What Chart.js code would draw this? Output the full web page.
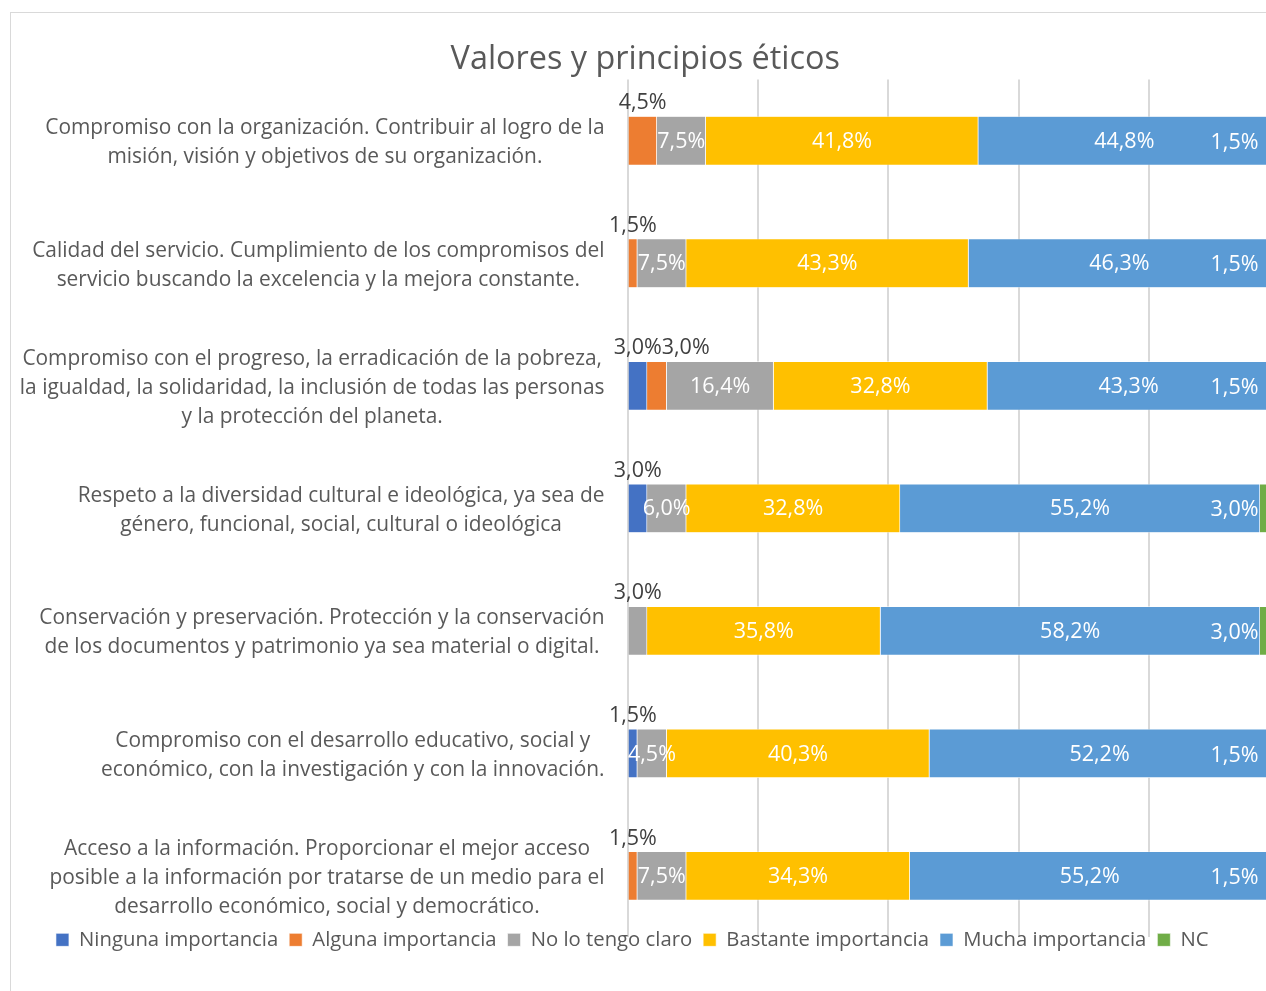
<!DOCTYPE html>
<html>
<head>
<meta charset="utf-8">
<script src="https://cdn.jsdelivr.net/npm/chart.js@4.4.1/dist/chart.umd.min.js"></script>
<style>
  html, body { margin: 0; padding: 0; background: #fff; overflow: hidden; }
  #frame { position: absolute; left: 10px; top: 12px; width: 1300px; height: 1010px; border: 1px solid #d9d9d9; }
  #wrap { position: absolute; left: 11px; top: 13px; width: 1280px; height: 1000px; }
</style>
</head>
<body>
<div id="frame"></div>
<div id="wrap"><canvas id="chart"></canvas></div>
<script>
// categories, top to bottom (one entry per line of the label)
const categories = [
  ['Compromiso con la organización. Contribuir al logro de la', 'misión, visión y objetivos de su organización.'],
  ['Calidad del servicio. Cumplimiento de los compromisos del', 'servicio buscando la excelencia y la mejora constante.'],
  ['Compromiso con el progreso, la erradicación de la pobreza,', 'la igualdad, la solidaridad, la inclusión de todas las personas', 'y la protección del planeta.'],
  ['Respeto a la diversidad cultural e ideológica, ya sea de', 'género, funcional, social, cultural o ideológica'],
  ['Conservación y preservación. Protección y la conservación', 'de los documentos y patrimonio ya sea material o digital.'],
  ['Compromiso con el desarrollo educativo, social y', 'económico, con la investigación y con la innovación.'],
  ['Acceso a la información. Proporcionar el mejor acceso', 'posible a la información por tratarse de un medio para el', 'desarrollo económico, social y democrático.']
];

const seriesNames = ['Ninguna importancia', 'Alguna importancia', 'No lo tengo claro', 'Bastante importancia', 'Mucha importancia', 'NC'];
const ninguna  = [0, 0, 3.0, 3.0, 0, 1.5, 0];
const alguna   = [4.5, 1.5, 3.0, 0, 0, 0, 1.5];
const noClaro  = [7.5, 7.5, 16.4, 6.0, 3.0, 4.5, 7.5];
const bastante = [41.8, 43.3, 32.8, 32.8, 35.8, 40.3, 34.3];
const mucha    = [44.8, 46.3, 43.3, 55.2, 58.2, 52.2, 55.2];
const nc       = [1.5, 1.5, 1.5, 3.0, 3.0, 1.5, 1.5];
const seriesColors = ['#4472C4', '#ED7D31', '#A5A5A5', '#FFC000', '#5B9BD5', '#70AD47'];

const xTicks = [0, 20, 40, 60, 80, 100];

const FONT = '"Open Sans", sans-serif';
const fmt = v => v.toFixed(1).replace('.', ',') + '%';

// category labels: block right-aligned to the axis, lines centered inside the block
const categoryLabels = {
  id: 'categoryLabels',
  afterDraw(chart) {
    const { ctx, chartArea, scales: { y } } = chart;
    ctx.save();
    ctx.font = '20.9px ' + FONT;
    ctx.fillStyle = '#595959';
    ctx.textAlign = 'center';
    ctx.textBaseline = 'middle';
    const lineH = 29;
    const right = chartArea.left - 23;
    y.getLabels().forEach((lines, i) => {
      const maxW = Math.max(...lines.map(l => ctx.measureText(l).width));
      const cx = right - maxW / 2;
      const cy = y.getPixelForValue(i) + 2;
      lines.forEach((l, k) => ctx.fillText(l, cx, cy + (k - (lines.length - 1) / 2) * lineH));
    });
    ctx.restore();
  }
};

// value labels on the segments
const segmentLabels = {
  id: 'segmentLabels',
  afterDatasetsDraw(chart) {
    const { ctx, chartArea } = chart;
    const sets = chart.data.datasets;
    ctx.save();
    ctx.font = '21.5px ' + FONT;
    ctx.textBaseline = 'middle';
    chart.data.labels.forEach((_, i) => {
      let lastRight = -Infinity;
      sets.forEach((ds, d) => {
        const v = ds.data[i];
        if (!v) return;
        const bar = chart.getDatasetMeta(d).data[i];
        const txt = fmt(v);
        const w = ctx.measureText(txt).width;
        const left = Math.min(bar.x, bar.base);
        const right = Math.max(bar.x, bar.base);
        const top = bar.y - bar.height / 2;
        const outside = d < 2 || (d === 2 && v < 4);
        if (outside) {
          let x = (left + right) / 2 - w / 2;
          if (x < lastRight) x = lastRight;
          ctx.fillStyle = '#404040';
          ctx.textAlign = 'left';
          ctx.fillText(txt, x, top - 13);
          lastRight = x + w;
        } else if (d === sets.length - 1) {
          ctx.fillStyle = '#fff';
          ctx.textAlign = 'right';
          ctx.fillText(txt, chartArea.right - 21, bar.y + 2);
        } else {
          ctx.fillStyle = '#fff';
          ctx.textAlign = 'center';
          ctx.fillText(txt, (left + right) / 2, bar.y + 1);
        }
      });
    });
    ctx.restore();
  }
};

// legend sits over the bottom of the plot, like the Excel original
const legendNudge = {
  id: 'legendNudge',
  afterLayout(chart) {
    const lg = chart.legend;
    const dy = (chart.chartArea.bottom - 18.5) - lg.top;
    lg.top += dy; lg.bottom += dy;
    lg.left -= 13; lg.right -= 13;
  }
};

const series = [ninguna, alguna, noClaro, bastante, mucha, nc];

new Chart(document.getElementById('chart'), {
  type: 'bar',
  data: {
    labels: categories,
    datasets: series.map((data, k) => ({
      label: seriesNames[k],
      data: data,
      backgroundColor: seriesColors[k],
      borderColor: '#ffffff',
      borderWidth: 0.6,
      barPercentage: 0.4,
      categoryPercentage: 1
    }))
  },
  options: {
    indexAxis: 'y',
    responsive: true,
    maintainAspectRatio: false,
    animation: false,
    devicePixelRatio: 1,
    layout: { padding: { left: 0, right: 11.5, top: 0, bottom: 34.5 } },
    scales: {
      x: {
        stacked: true,
        min: 0,
        max: 100,
        afterBuildTicks: scale => { scale.ticks = xTicks.map(v => ({ value: v })); },
        ticks: { display: false },
        grid: { color: '#d9d9d9', lineWidth: 2, drawTicks: false },
        border: { display: false }
      },
      y: {
        stacked: true,
        ticks: { display: false },
        grid: { display: false },
        border: { display: false },
        afterFit: scale => { scale.width = 616.5; }
      }
    },
    plugins: {
      title: {
        display: true,
        text: 'Valores y principios éticos',
        color: '#595959',
        font: { family: FONT, size: 32.4, weight: 'normal' },
        padding: { top: 27.6, bottom: 0 }
      },
      legend: {
        position: 'bottom',
        labels: {
          color: '#595959',
          font: { family: FONT, size: 20.3 },
          boxWidth: 13,
          boxHeight: 13,
          padding: 11
        }
      },
      tooltip: { enabled: false }
    }
  },
  plugins: [categoryLabels, segmentLabels, legendNudge]
});
</script>
</body>
</html>
